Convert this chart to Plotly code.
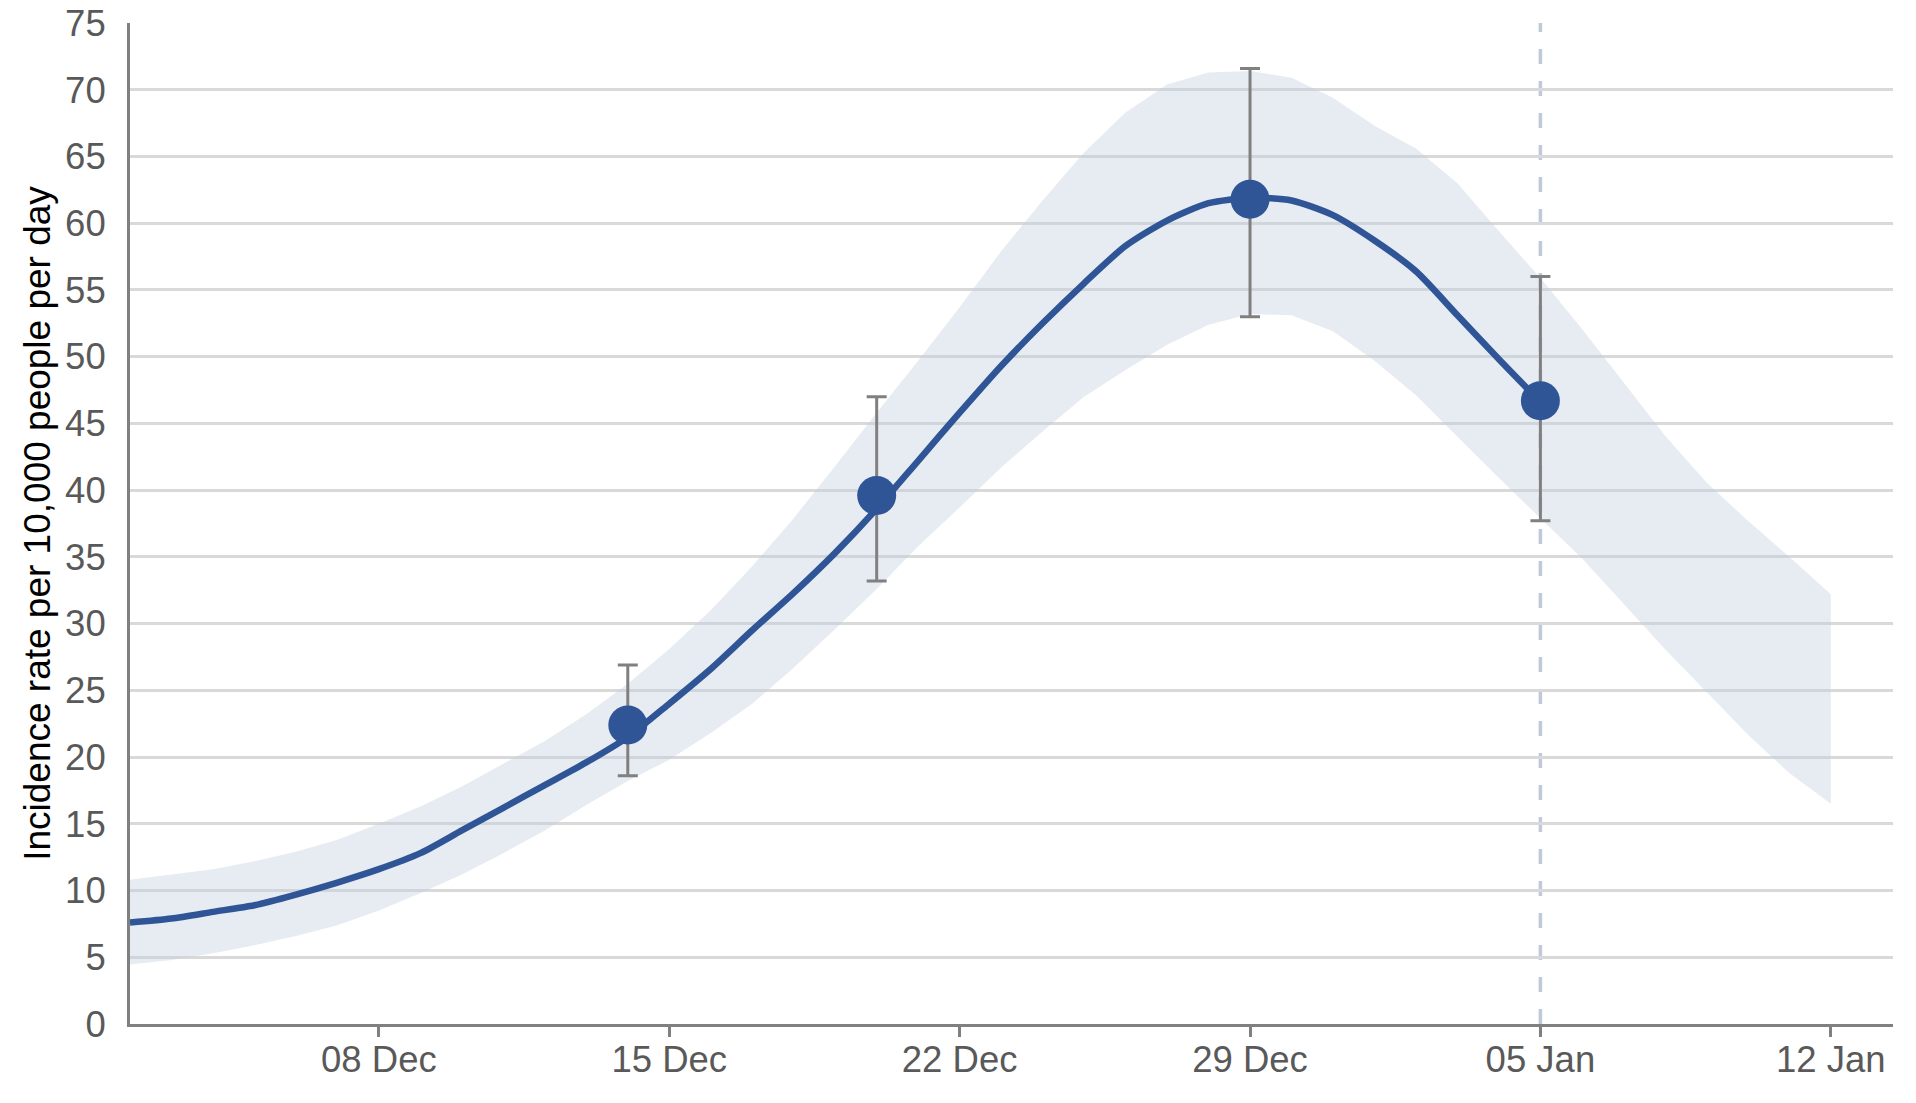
import pandas as pd
import plotly.graph_objects as go

# daily model estimate (2 Dec - 5 Jan) and credible interval (2 Dec - 12 Jan)
model_dates = pd.date_range("2021-12-02", "2022-01-05", freq="D")
model_rate = [7.6, 7.9, 8.4, 8.9, 9.7, 10.6, 11.6, 12.8, 14.5, 16.2,
              17.9, 19.6, 21.5, 24.0, 26.6, 29.5, 32.3, 35.3, 38.6, 42.2,
              45.8, 49.3, 52.5, 55.5, 58.3, 60.2, 61.5, 61.9, 61.7, 60.6,
              58.7, 56.4, 53.1, 49.8, 46.6]

band_dates = pd.date_range("2021-12-02", "2022-01-12", freq="D")
band_upper = [10.8, 11.2, 11.6, 12.2, 12.9, 13.8, 15.0, 16.3, 17.8, 19.5,
              21.2, 23.2, 25.5, 28.1, 31.0, 34.3, 37.9, 41.8, 45.8, 49.7,
              53.7, 57.9, 61.7, 65.3, 68.3, 70.4, 71.3, 71.4, 70.9, 69.4,
              67.3, 65.6, 63.0, 59.4, 55.9, 52.1, 48.1, 44.1, 40.6, 37.7,
              35.0, 32.2]
band_lower = [4.45, 4.8, 5.3, 5.9, 6.6, 7.4, 8.5, 9.8, 11.2, 12.8,
              14.5, 16.4, 18.2, 19.8, 21.8, 24.0, 26.7, 29.6, 32.6, 35.8,
              38.7, 41.7, 44.4, 47.0, 49.0, 50.9, 52.4, 53.2, 53.1, 51.9,
              49.7, 47.1, 44.0, 40.9, 37.9, 34.9, 31.5, 28.1, 24.9, 21.7,
              18.8, 16.5]

# survey estimates with 95% intervals
survey_dates = ["2021-12-14", "2021-12-20", "2021-12-29", "2022-01-05"]
survey_rate = [22.4, 39.6, 61.8, 46.7]
survey_low = [18.6, 33.2, 53.0, 37.7]
survey_high = [26.9, 47.0, 71.6, 56.0]

last_data_date = "2022-01-05"

blue = "#2f5597"
font = "Liberation Sans, Arial, sans-serif"

fig = go.Figure()

fig.add_trace(go.Scatter(x=band_dates, y=band_lower, mode="lines",
                         line=dict(width=0), hoverinfo="skip", showlegend=False))
fig.add_trace(go.Scatter(x=band_dates, y=band_upper, mode="lines",
                         line=dict(width=0), fill="tonexty",
                         fillcolor="rgba(196,205,222,0.4)",
                         hoverinfo="skip", showlegend=False))

fig.add_trace(go.Scatter(x=model_dates, y=model_rate, mode="lines",
                         line=dict(color=blue, width=6.5, shape="spline", smoothing=0.7),
                         showlegend=False))

err_plus = [h - v for h, v in zip(survey_high, survey_rate)]
err_minus = [v - l for v, l in zip(survey_rate, survey_low)]
fig.add_trace(go.Scatter(x=survey_dates, y=survey_rate, mode="markers",
                         marker=dict(color=blue, size=39, line=dict(width=0)),
                         error_y=dict(type="data", symmetric=False,
                                      array=err_plus, arrayminus=err_minus,
                                      color="#808080", thickness=3, width=10),
                         showlegend=False))

# dashed line marking the last survey date
fig.add_vline(x=last_data_date, line=dict(color="#bfcad8", width=3.5, dash="15px,17px"),
              layer="below")

fig.update_layout(
    width=1916, height=1103,
    margin=dict(l=130, r=23, t=22.5, b=78.5, autoexpand=False),
    plot_bgcolor="white", paper_bgcolor="white",
    font=dict(family=font, size=36.5, color="#595959"),
)

fig.update_xaxes(
    type="date",
    range=["2021-12-02", "2022-01-13 12:00"],
    tick0="2021-12-08", dtick=7 * 24 * 3600 * 1000,
    tickformat="%d %b",
    showgrid=False, zeroline=False,
    showline=True, linecolor="#808080", linewidth=3,
    ticks="outside", ticklen=10, tickwidth=3, tickcolor="#808080",
    ticklabelstandoff=-9, ticklabeloverflow="allow",
)
fig.update_yaxes(
    range=[0, 75], dtick=5,
    showgrid=True, gridcolor="#d9d9d9", gridwidth=2.5,
    zeroline=False,
    showline=True, linecolor="#808080", linewidth=3,
    ticks="", ticklabelstandoff=14, ticklabeloverflow="allow",
    title=dict(text="Incidence rate per 10,000 people per day",
               font=dict(family=font, size=37, color="black"), standoff=4),
)

# drop the default body margin so the figure fills the window
fig.write_html("out.html", config={"displayModeBar": False},
               post_script="document.body.style.margin = '0';")
